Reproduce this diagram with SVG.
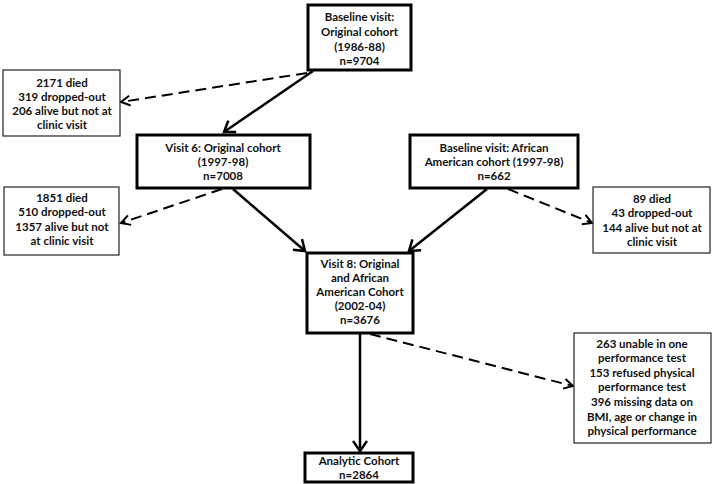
<svg xmlns="http://www.w3.org/2000/svg" width="715" height="484" viewBox="0 0 715 484">
<defs>
<style>
text{font-family:Lato,"Liberation Sans",sans-serif;font-weight:bold;font-size:11.5px;fill:#111;text-anchor:middle}
.thick{fill:#fff;stroke:#000;stroke-width:3}
.thin{fill:#fff;stroke:#222;stroke-width:1.2}
.solid{fill:none;stroke:#000;stroke-width:2.5}
.dash{fill:none;stroke:#000;stroke-width:2;stroke-dasharray:11 6}
</style>
<marker id="ah" markerUnits="userSpaceOnUse" markerWidth="16" markerHeight="16" refX="12" refY="8" orient="auto" viewBox="0 0 16 16">
<path d="M2,1 L12,8 L2,15" fill="none" stroke="#000" stroke-width="2.5"/>
</marker>
<marker id="ahd" markerUnits="userSpaceOnUse" markerWidth="14" markerHeight="14" refX="11" refY="7" orient="auto" viewBox="0 0 14 14">
<path d="M2,2 L11,7 L2,12" fill="none" stroke="#000" stroke-width="2"/>
</marker>
</defs>
<rect width="715" height="484" fill="#fff"/>
<g id="connectors">
<line class="dash" x1="307" y1="73" x2="121" y2="102" marker-end="url(#ahd)"/>
<line class="solid" x1="313" y1="71" x2="224" y2="132" marker-end="url(#ah)"/>
<line class="dash" x1="222" y1="189" x2="121" y2="223" marker-end="url(#ahd)"/>
<line class="solid" x1="233" y1="189" x2="305" y2="251" marker-end="url(#ah)"/>
<line class="solid" x1="487" y1="189" x2="409" y2="251" marker-end="url(#ah)"/>
<line class="dash" x1="508" y1="189" x2="592" y2="223" marker-end="url(#ahd)"/>
<line class="dash" x1="370" y1="334" x2="573" y2="386" marker-end="url(#ahd)"/>
<line class="solid" x1="360" y1="333" x2="360" y2="451" marker-end="url(#ah)"/>
</g>
<g id="baseline">
<rect class="thick" x="308" y="5" width="103" height="65"/>
<text x="359.5" y="21">Baseline visit:</text>
<text x="359.5" y="36">Original cohort</text>
<text x="359.5" y="51">(1986-88)</text>
<text x="359.5" y="65">n=9704</text>
</g>
<g id="loss1">
<rect class="thin" x="3" y="70" width="117" height="66"/>
<text x="62" y="87">2171 died</text>
<text x="62" y="101">319 dropped-out</text>
<text x="62" y="115">206 alive but not at</text>
<text x="62" y="129">clinic visit</text>
</g>
<g id="visit6">
<rect class="thick" x="137" y="135" width="173" height="53"/>
<text x="223" y="152">Visit 6: Original cohort</text>
<text x="223" y="166">(1997-98)</text>
<text x="223" y="180">n=7008</text>
</g>
<g id="aa">
<rect class="thick" x="410" y="135" width="168" height="53"/>
<text x="494" y="152">Baseline visit: African</text>
<text x="494" y="166">American cohort (1997-98)</text>
<text x="494" y="180">n=662</text>
</g>
<g id="loss2">
<rect class="thin" x="4" y="187" width="115" height="68"/>
<text x="62" y="202">1851 died</text>
<text x="62" y="216">510 dropped-out</text>
<text x="62" y="231">1357 alive but not</text>
<text x="62" y="245">at clinic visit</text>
</g>
<g id="loss3">
<rect class="thin" x="593" y="187" width="117" height="66"/>
<text x="652" y="203">89 died</text>
<text x="652" y="217">43 dropped-out</text>
<text x="652" y="232">144 alive but not at</text>
<text x="652" y="246">clinic visit</text>
</g>
<g id="visit8">
<rect class="thick" x="307" y="253" width="106" height="80"/>
<text x="360" y="268">Visit 8: Original</text>
<text x="360" y="282">and African</text>
<text x="360" y="296">American Cohort</text>
<text x="360" y="310">(2002-04)</text>
<text x="360" y="324">n=3676</text>
</g>
<g id="exclusions">
<rect class="thin" x="574" y="333" width="137" height="110"/>
<text x="642" y="348">263 unable in one</text>
<text x="642" y="362">performance test</text>
<text x="642" y="377">153 refused physical</text>
<text x="642" y="391">performance test</text>
<text x="642" y="406">396 missing data on</text>
<text x="642" y="421">BMI, age or change in</text>
<text x="642" y="435">physical performance</text>
</g>
<g id="analytic">
<rect class="thick" x="305" y="453" width="108" height="29"/>
<text x="359" y="465">Analytic Cohort</text>
<text x="359" y="479">n=2864</text>
</g>
</svg>
